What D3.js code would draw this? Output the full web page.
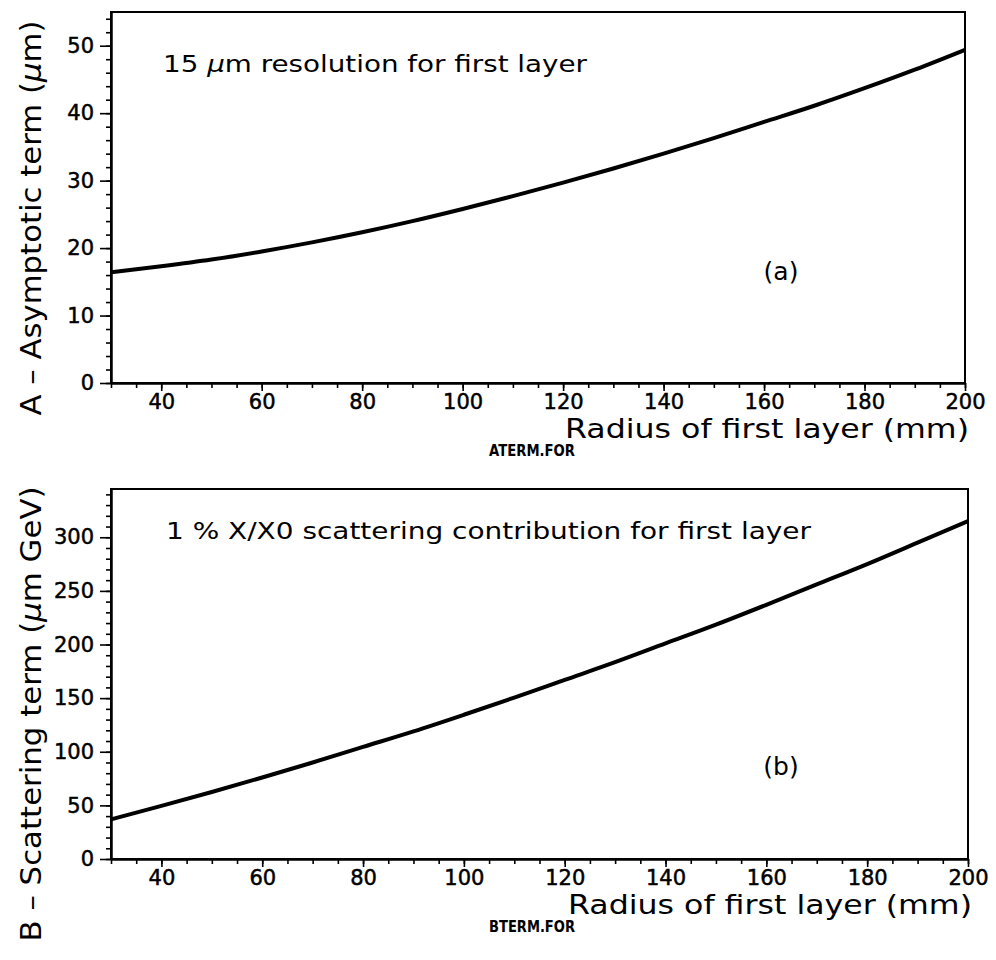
<!DOCTYPE html>
<html>
  <head>
    <script src="https://d3js.org/d3.v7.min.js"></script>
    <style>
      body { margin: 0; background: #fff; }
      text { font-family: "DejaVu Sans", sans-serif; fill: #000; }
    </style>
  </head>
  <body>
    <div id="chart"></div>
    <script>
      // radius of first layer (mm)
      const radius = [30, 40, 50, 60, 70, 80, 90, 100, 110, 120, 130, 140, 150, 160, 170, 180, 190, 200];
      // A - asymptotic term (um), 15 um resolution
      const aTerm = [16.4, 17.3, 18.3, 19.5, 20.85, 22.35, 24.0, 25.8, 27.7, 29.7, 31.8, 34.0, 36.3, 38.7, 41.1, 43.7, 46.45, 49.4];
      // B - scattering term (um GeV), 1 % X/X0
      const bTerm = [37, 49.5, 62.5, 76, 90, 104.5, 119, 134.5, 150.5, 167, 183.5, 201, 218.5, 237, 256, 275, 295, 315];

      const radiusTicks = [40, 60, 80, 100, 120, 140, 160, 180, 200];
      const aTicks = [0, 10, 20, 30, 40, 50];
      const bTicks = [0, 50, 100, 150, 200, 250, 300];

      const width = 996;
      const height = 960;

      const svg = d3
        .select("#chart")
        .append("svg")
        .attr("width", width)
        .attr("height", height);

      function drawPanel(p) {
        const x = d3.scaleLinear().domain([30, 200]).range([p.left, p.right]);
        const y = d3.scaleLinear().domain([0, p.yMax]).range([p.bottom, p.top]);
        const g = svg.append("g");

        // frame
        g.append("rect")
          .attr("x", p.left)
          .attr("y", p.top)
          .attr("width", p.right - p.left)
          .attr("height", p.bottom - p.top)
          .attr("fill", "none")
          .attr("stroke", "#000")
          .attr("stroke-width", 2);

        // minor ticks
        g.append("g")
          .attr("transform", `translate(0,${p.bottom})`)
          .call(d3.axisBottom(x).tickValues(d3.range(30, 201, 5)).tickSize(5).tickSizeOuter(0).tickFormat(""));
        g.append("g")
          .attr("transform", `translate(${p.left},0)`)
          .call(d3.axisLeft(y).tickValues(d3.range(0, p.yMax + 0.01, p.yMinor)).tickSize(5).tickSizeOuter(0).tickFormat(""));

        // major ticks + labels
        g.append("g")
          .attr("transform", `translate(0,${p.bottom})`)
          .call(d3.axisBottom(x).tickValues(radiusTicks).tickSize(8).tickSizeOuter(0).tickPadding(3));
        g.append("g")
          .attr("transform", `translate(${p.left},0)`)
          .call(d3.axisLeft(y).tickValues(p.yTicks).tickSize(11).tickSizeOuter(0).tickPadding(6));

        g.selectAll(".domain").attr("stroke-width", 2);
        g.selectAll(".tick line").attr("stroke-width", 1.6);
        g.selectAll(".tick text")
          .attr("font-family", "DejaVu Sans")
          .attr("font-size", 21)
          .attr("fill", "#000")
          .attr("stroke", "#000")
          .attr("stroke-width", 0.5);

        // curve
        g.append("path")
          .datum(radius.map((r, i) => [r, p.values[i]]))
          .attr("fill", "none")
          .attr("stroke", "#000")
          .attr("stroke-width", 4)
          .attr("stroke-linejoin", "round")
          .attr("d", d3.line().x((d) => x(d[0])).y((d) => y(d[1])).curve(d3.curveMonotoneX));

        // note inside the plot
        const note = g.append("text")
          .attr("x", p.noteX)
          .attr("y", p.noteY)
          .attr("font-size", 23)
          .attr("textLength", p.noteLen)
          .attr("lengthAdjust", "spacingAndGlyphs");
        p.note.forEach((s) => {
          note.append("tspan").attr("font-style", s.italic ? "italic" : null).text(s.t);
        });

        g.append("text")
          .attr("x", p.tagX)
          .attr("y", p.tagY)
          .attr("font-size", 25)
          .attr("text-anchor", "middle")
          .text(p.tag);

        // x title
        g.append("text")
          .attr("x", p.right + 4)
          .attr("y", p.bottom + 55)
          .attr("font-size", 27)
          .attr("text-anchor", "end")
          .attr("textLength", 404)
          .attr("lengthAdjust", "spacingAndGlyphs")
          .text("Radius of first layer (mm)");

        g.append("text")
          .attr("x", 532)
          .attr("y", p.bottom + 73)
          .attr("font-family", "Liberation Sans")
          .attr("font-weight", "bold")
          .attr("font-size", 16)
          .attr("text-anchor", "middle")
          .attr("textLength", 86)
          .attr("lengthAdjust", "spacingAndGlyphs")
          .text(p.file);

        // y title
        const yt = g.append("text")
          .attr("transform", `translate(41,${p.titleY}) rotate(-90)`)
          .attr("font-size", 29)
          .attr("text-anchor", "middle")
          .attr("textLength", p.titleLen)
          .attr("lengthAdjust", "spacingAndGlyphs");
        p.yTitle.forEach((s) => {
          yt.append("tspan").attr("font-style", s.italic ? "italic" : null).text(s.t);
        });
      }

      drawPanel({
        values: aTerm,
        yMax: 55,
        yTicks: aTicks,
        yMinor: 2,
        left: 111,
        right: 965,
        top: 12,
        bottom: 383,
        note: [{ t: "15 " }, { t: "\u03bc", italic: true }, { t: "m resolution for first layer" }],
        noteX: 163,
        noteY: 72,
        noteLen: 424,
        tag: "(a)",
        tagX: 781,
        tagY: 280,
        file: "ATERM.FOR",
        yTitle: [{ t: "A \u2013 Asymptotic term (" }, { t: "\u03bc", italic: true }, { t: "m)" }],
        titleY: 218,
        titleLen: 395,
      });

      drawPanel({
        values: bTerm,
        yMax: 345,
        yTicks: bTicks,
        yMinor: 10,
        left: 111,
        right: 968,
        top: 489,
        bottom: 859,
        note: [{ t: "1 % X/X0 scattering contribution for first layer" }],
        noteX: 166,
        noteY: 539,
        noteLen: 645,
        tag: "(b)",
        tagX: 781,
        tagY: 775,
        file: "BTERM.FOR",
        yTitle: [{ t: "B \u2013 Scattering term (" }, { t: "\u03bc", italic: true }, { t: "m GeV)" }],
        titleY: 714,
        titleLen: 455,
      });
    </script>
  </body>
</html>
